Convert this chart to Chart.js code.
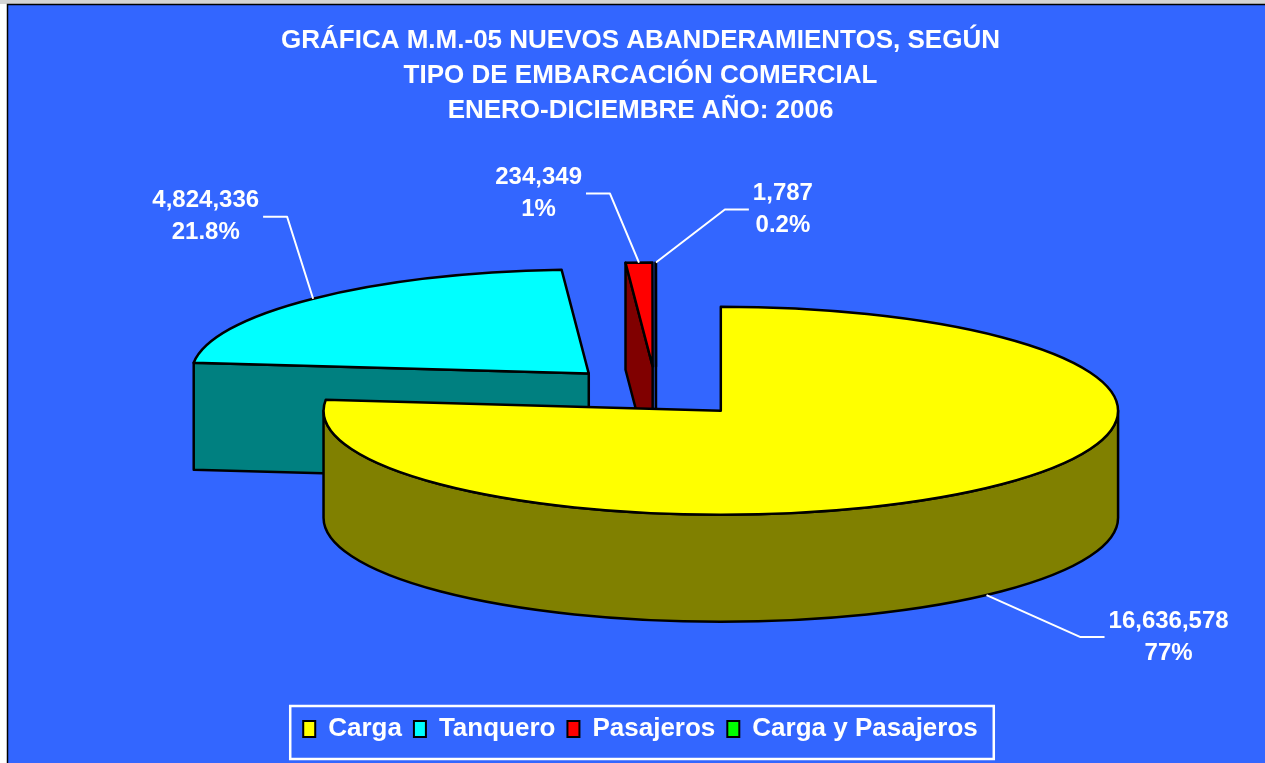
<!DOCTYPE html>
<html>
<head>
<meta charset="utf-8">
<script src="https://cdn.jsdelivr.net/npm/chart.js@4.4.1/dist/chart.umd.min.js"></script>
<style>
  html, body { margin: 0; padding: 0; background: #fff; }
  #wrap { width: 1265px; height: 763px; }
</style>
</head>
<body>
<div id="wrap"><canvas id="chart"></canvas></div>
<script>
const categories = ['Carga', 'Tanquero', 'Pasajeros', 'Carga y Pasajeros'];
const values = [16636578, 4824336, 234349, 1787];
const pctLabels = ['77%', '21.8%', '1%', '0.2%'];
const titleLines = [
  'GRÁFICA M.M.-05 NUEVOS ABANDERAMIENTOS, SEGÚN',
  'TIPO DE EMBARCACIÓN COMERCIAL',
  'ENERO-DICIEMBRE AÑO: 2006'
];

const topColors = ['#ffff00', '#00ffff', '#ff0000', '#00ff00'];
const sideColors = ['#808000', '#008080', '#800000', '#008000'];
const bg = '#3366ff';
const fontFamily = '"Liberation Sans", Arial, sans-serif';

// 3d look, sizes as ratios of the pie radius
const view = { sx: 1.73, sy: 0.453, depth: 0.466, shiftX: 15.5 };
// label elbow, measured from the rim anchor of each slice
const leaders = [[94, 42], [-26, -82], [-29, -69], [69, -53]];

const pie3d = {
  id: 'pie3d',
  beforeDraw(chart) {
    const ctx = chart.ctx;
    const w = chart.width, h = chart.height;
    ctx.save();
    ctx.fillStyle = '#d4d4d4';
    ctx.fillRect(0, 0, w, h);
    ctx.fillStyle = '#fff';
    ctx.fillRect(0, 4, 7, h);
    ctx.fillStyle = bg;
    ctx.fillRect(7, 4, w, h);
    ctx.strokeStyle = '#000';
    ctx.lineWidth = 1.5;
    ctx.beginPath();
    ctx.moveTo(7.5, h);
    ctx.lineTo(7.5, 4.5);
    ctx.lineTo(w, 4.5);
    ctx.stroke();

    // white frame round the legend
    const boxes = chart.legend.legendHitBoxes;
    if (boxes && boxes.length) {
      const last = boxes[boxes.length - 1];
      const l = boxes[0].left - 13;
      const r = last.left + last.width + 16;
      const mid = boxes[0].top + boxes[0].height / 2;
      ctx.strokeStyle = '#fff';
      ctx.lineWidth = 2.5;
      ctx.strokeRect(l, mid - 23, r - l, 53);
    }
    ctx.restore();
  },
  beforeDatasetsDraw(chart) {
    const ctx = chart.ctx;
    const arcs = chart.getDatasetMeta(0).data;
    const R = arcs[0].outerRadius;
    const rx = R * view.sx, ry = R * view.sy, dz = R * view.depth;

    const slices = arcs.map((a, i) => {
      const mid = (a.startAngle + a.endAngle) / 2;
      const off = a.options.offset;
      return {
        i, a0: a.startAngle, a1: a.endAngle, mid,
        cx: a.x + view.shiftX + Math.cos(mid) * off * view.sx,
        cy: a.y - dz / 2 + Math.sin(mid) * off * view.sy
      };
    });

    const paint = (fill) => {
      ctx.fillStyle = fill;
      ctx.fill();
      ctx.stroke();
    };

    ctx.save();
    ctx.strokeStyle = '#000';
    ctx.lineWidth = 2.5;
    ctx.lineJoin = 'round';

    const order = slices.slice().sort((p, q) => Math.sin(p.mid) - Math.sin(q.mid));
    order.forEach(s => {
      const side = sideColors[s.i];
      // cut faces
      [[s.a0, Math.cos(s.a0) < -1e-9], [s.a1, Math.cos(s.a1) > 1e-9]].forEach(([t, show]) => {
        if (!show) return;
        const ex = s.cx + rx * Math.cos(t), ey = s.cy + ry * Math.sin(t);
        ctx.beginPath();
        ctx.moveTo(s.cx, s.cy);
        ctx.lineTo(ex, ey);
        ctx.lineTo(ex, ey + dz);
        ctx.lineTo(s.cx, s.cy + dz);
        ctx.closePath();
        paint(side);
      });
      // outer wall, front half only
      for (let k = -1; k <= 1; k++) {
        const t0 = Math.max(s.a0, 2 * Math.PI * k);
        const t1 = Math.min(s.a1, 2 * Math.PI * k + Math.PI);
        if (t1 <= t0) continue;
        ctx.beginPath();
        ctx.ellipse(s.cx, s.cy, rx, ry, 0, t0, t1);
        ctx.lineTo(s.cx + rx * Math.cos(t1), s.cy + ry * Math.sin(t1) + dz);
        ctx.ellipse(s.cx, s.cy + dz, rx, ry, 0, t1, t0, true);
        ctx.closePath();
        paint(side);
      }
      // top face
      ctx.beginPath();
      ctx.moveTo(s.cx, s.cy);
      ctx.ellipse(s.cx, s.cy, rx, ry, 0, s.a0, s.a1);
      ctx.closePath();
      paint(topColors[s.i]);
    });

    // value labels with leader lines
    ctx.font = 'bold 24px ' + fontFamily;
    ctx.fillStyle = '#fff';
    ctx.strokeStyle = '#fff';
    ctx.lineWidth = 2;
    ctx.textAlign = 'center';
    ctx.textBaseline = 'middle';
    slices.forEach(s => {
      const front = Math.sin(s.mid) > 0;
      const ax = s.cx + rx * Math.cos(s.mid);
      const ay = s.cy + ry * Math.sin(s.mid) + (front ? dz : 0);
      const [ox, oy] = leaders[s.i];
      const dir = ox < 0 ? -1 : 1;
      const ex = ax + ox, ey = ay + oy;
      const tx = ex + dir * 24;
      ctx.beginPath();
      ctx.moveTo(ax, ay);
      ctx.lineTo(ex, ey);
      ctx.lineTo(tx, ey);
      ctx.stroke();
      const lines = [values[s.i].toLocaleString('en-US'), pctLabels[s.i]];
      const tw = Math.max(...lines.map(t => ctx.measureText(t).width));
      const lx = tx + dir * (4 + tw / 2);
      ctx.fillText(lines[0], lx, ey - 16);
      ctx.fillText(lines[1], lx, ey + 16);
    });
    ctx.restore();
    return false;
  }
};

new Chart(document.getElementById('chart'), {
  type: 'pie',
  data: {
    labels: categories,
    datasets: [{
      data: values,
      backgroundColor: topColors,
      borderColor: '#000',
      borderWidth: 2,
      offset: 56
    }]
  },
  options: {
    responsive: true,
    maintainAspectRatio: false,
    animation: false,
    layout: { padding: { left: 16, right: 0, top: 4, bottom: 11 } },
    plugins: {
      title: {
        display: true,
        text: titleLines,
        color: '#fff',
        font: { family: fontFamily, size: 26, weight: 'bold', lineHeight: 1.33 },
        padding: { top: 20, bottom: 59 }
      },
      legend: {
        position: 'bottom',
        labels: {
          color: '#fff',
          font: { family: fontFamily, size: 26, weight: 'bold' },
          boxWidth: 12,
          boxHeight: 16,
          padding: 12
        }
      },
      tooltip: { enabled: false }
    }
  },
  plugins: [pie3d]
});
</script>
</body>
</html>
